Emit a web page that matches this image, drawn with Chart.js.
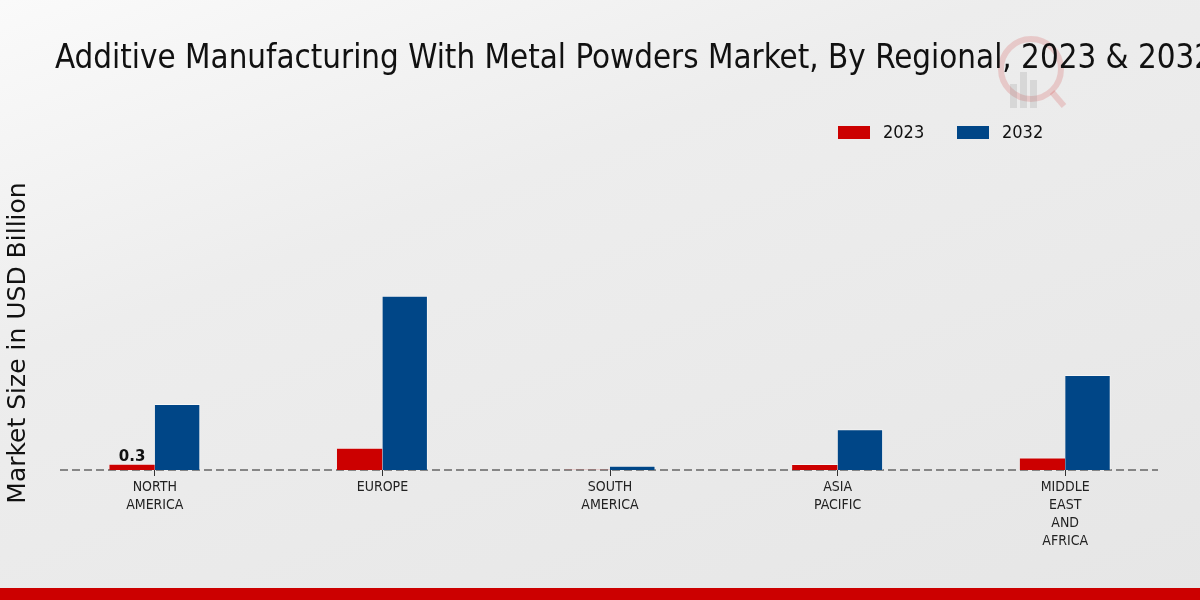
<!DOCTYPE html>
<html>
<head>
<meta charset="utf-8">
<script src="https://cdn.jsdelivr.net/npm/chart.js@4.4.1/dist/chart.umd.min.js"></script>
<style>
  html, body { margin: 0; padding: 0; }
  body {
    width: 1200px; height: 600px; overflow: hidden; position: relative;
    background: linear-gradient(160deg, #fafafa 0%, #ededed 35%, #e6e6e6 100%);
  }
  #wrap { position: absolute; left: 0; top: 0; width: 1200px; height: 600px; }
  #stripe { position: absolute; left: 0; top: 588px; width: 1200px; height: 12px; background: #cc0000; }
</style>
</head>
<body>
<div id="wrap"><canvas id="regionChart" width="1200" height="600"></canvas></div>
<div id="stripe"></div>
<script>
// datos
const regions = [['NORTH', 'AMERICA'], 'EUROPE', ['SOUTH', 'AMERICA'], ['ASIA', 'PACIFIC'], ['MIDDLE', 'EAST', 'AND', 'AFRICA']]
const years = ['2023', '2032']
const values2023 = [0.3, 1.06, 0.02, 0.29, 0.6]
const values2032 = [3.14, 8.3, 0.2, 1.94, 4.52]
const labelled2023 = [0.3, null, null, null, null]

const TITLE = 'Additive Manufacturing With Metal Powders Market, By Regional, 2023 & 2032'
const Y_TITLE = 'Market Size in USD Billion'
const COND = "'DejaVu Sans Condensed', 'Liberation Sans Narrow', 'DejaVu Sans'"

// marca de agua, linea base punteada
const extras = {
    id: 'extras',
    beforeDatasetsDraw(chart) {
        const ctx = chart.ctx
        const y0 = chart.scales.y.getPixelForValue(0)
        ctx.save()
        // marca de agua (detras del titulo)
        ctx.globalAlpha = 0.15
        ctx.strokeStyle = '#cc0000'
        ctx.lineWidth = 6
        ctx.beginPath()
        ctx.arc(1031, 69, 30, 0, Math.PI * 2)
        ctx.stroke()
        ctx.beginPath()
        ctx.moveTo(1052, 92)
        ctx.lineTo(1064, 106)
        ctx.stroke()
        ctx.fillStyle = '#666'
        ctx.fillRect(1010, 84, 7, 24)
        ctx.fillRect(1020, 72, 7, 36)
        ctx.fillRect(1030, 80, 7, 28)
        ctx.globalAlpha = 1

        ctx.strokeStyle = '#666'
        ctx.lineWidth = 1.3
        ctx.setLineDash([8, 4])
        ctx.beginPath()
        ctx.moveTo(60, y0)
        ctx.lineTo(1158, y0)
        ctx.stroke()
        ctx.restore()
    },
    afterDraw(chart) {
        const ctx = chart.ctx
        ctx.save()
        // titulo
        ctx.fillStyle = '#111'
        ctx.font = "34px " + COND
        ctx.textBaseline = 'alphabetic'
        ctx.textAlign = 'left'
        ctx.save()
        ctx.translate(55, 68)
        ctx.scale(0.965, 1)
        ctx.fillText(TITLE, 0, 0)
        ctx.restore()

        // titulo del eje y
        ctx.save()
        ctx.translate(18, 343)
        ctx.rotate(-Math.PI / 2)
        ctx.font = "25px 'DejaVu Sans'"
        ctx.textAlign = 'center'
        ctx.textBaseline = 'middle'
        ctx.fillText(Y_TITLE, 0, 0)
        ctx.restore()

        // leyenda
        const items = [[838, 0], [957, 1]]
        ctx.font = "18px " + COND
        ctx.textBaseline = 'middle'
        items.forEach(function (it) {
            const ds = chart.data.datasets[it[1]]
            ctx.fillStyle = ds.backgroundColor
            ctx.fillRect(it[0], 126, 32, 13)
            ctx.fillStyle = '#111'
            ctx.fillText(ds.label, it[0] + 45, 133)
        })

        // etiqueta de valor
        const meta = chart.getDatasetMeta(0)
        ctx.font = "bold 15px 'DejaVu Sans'"
        ctx.textAlign = 'center'
        ctx.textBaseline = 'alphabetic'
        labelled2023.forEach(function (v, i) {
            if (v === null) return
            const bar = meta.data[i]
            ctx.fillText(String(v), bar.x, bar.y - 3)
        })
        ctx.restore()
    }
}

new Chart(document.getElementById('regionChart'), {
    type: 'bar',
    data: {
        labels: regions,
        datasets: [{
            label: years[0],
            data: values2023,
            backgroundColor: '#cc0000',
            borderColor: 'rgba(255,255,255,0.5)',
            borderWidth: { top: 1, left: 0, right: 0, bottom: 0 }
        }, {
            label: years[1],
            data: values2032,
            backgroundColor: '#004687',
            borderColor: 'rgba(255,255,255,0.5)',
            borderWidth: { top: 1, left: 0, right: 1, bottom: 0 }
        }]
    },
    options: {
        responsive: false,
        animation: false,
        devicePixelRatio: 1,
        layout: { padding: { top: 155, right: 21, left: 0, bottom: 0 } },
        categoryPercentage: 0.4,
        barPercentage: 1.0,
        plugins: {
            legend: { display: false },
            title: { display: false },
            tooltip: { enabled: false }
        },
        scales: {
            x: {
                grid: { display: true, drawOnChartArea: false, drawTicks: true, tickLength: 6, color: '#333', offset: false },
                border: { display: false },
                ticks: { color: '#222', padding: 2, font: { family: COND, size: 14, lineHeight: 1.3 }, maxRotation: 0, autoSkip: false },
                afterFit(scale) { scale.height = 130 }
            },
            y: {
                min: 0,
                max: 15,
                grid: { display: false },
                border: { display: false },
                ticks: { display: false },
                afterFit(scale) { scale.width = 41 }
            }
        }
    },
    plugins: [extras]
})
</script>
</body>
</html>
